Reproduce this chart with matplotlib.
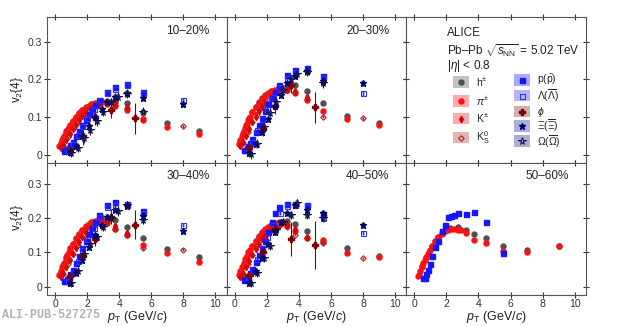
import numpy as np
import matplotlib
matplotlib.use('Agg')
import matplotlib.pyplot as plt
from matplotlib.patches import Rectangle

plt.rcParams['font.family'] = ['Liberation Sans', 'DejaVu Sans']
plt.rcParams['mathtext.fontset'] = 'custom'
plt.rcParams['mathtext.rm'] = 'Liberation Sans'
plt.rcParams['mathtext.it'] = 'Liberation Sans:italic'
plt.rcParams['mathtext.bf'] = 'Liberation Sans:bold'

# centrality classes shown in the panels
cents = ['10–20%', '20–30%', '30–40%', '40–50%', '50–60%']

# pT bins (GeV/c)
pt_h = [0.3, 0.5, 0.7, 0.9, 1.1, 1.3, 1.5, 1.7, 1.9, 2.25, 2.75, 3.25, 3.75, 4.5, 5.5, 7.0, 9.0]
pt_pi = [0.25, 0.35, 0.45, 0.55, 0.65, 0.75, 0.85, 0.95, 1.1, 1.3, 1.5, 1.7, 1.9, 2.1, 2.3, 2.5,
         2.7, 2.9, 3.25, 3.75, 4.5, 5.5, 7.0, 9.0]
pt_k = [0.35, 0.5, 0.7, 0.9, 1.1, 1.3, 1.5, 1.7, 1.9, 2.25, 2.75, 3.25, 3.75, 4.5]
pt_k0s = [0.5, 0.8, 1.1, 1.4, 1.7, 2.0, 2.4, 2.8, 3.25, 3.75, 4.5, 5.5, 8.0]
pt_p = [0.55, 0.65, 0.75, 0.85, 0.95, 1.1, 1.3, 1.5, 1.7, 1.9, 2.1, 2.3, 2.5, 2.75, 3.25, 3.75, 4.5, 5.5]
pt_lam = [0.8, 1.1, 1.4, 1.7, 2.0, 2.4, 2.8, 3.25, 3.75, 4.5, 5.5, 8.0]
pt_phi = [0.9, 1.75, 2.5, 3.5, 5.0]
pt_xi = [0.9, 1.3, 1.7, 2.1, 2.5, 2.9, 3.25, 3.75, 4.5, 5.5, 8.0]
pt_om = [1.0, 1.4, 1.8, 2.2, 2.6, 3.0, 3.5, 3.9, 4.5, 5.5]

# v2{4} values per centrality
v2_h = {
    '10–20%': [0.028, 0.046, 0.063, 0.078, 0.091, 0.102, 0.112, 0.120, 0.127, 0.135, 0.141, 0.143, 0.140, 0.138, 0.115, 0.084, 0.063],
    '20–30%': [0.034, 0.058, 0.079, 0.097, 0.113, 0.127, 0.140, 0.150, 0.158, 0.170, 0.179, 0.184, 0.186, 0.170, 0.139, 0.104, 0.084],
    '30–40%': [0.037, 0.064, 0.088, 0.108, 0.125, 0.141, 0.155, 0.166, 0.176, 0.188, 0.197, 0.198, 0.194, 0.174, 0.142, 0.110, 0.087],
    '40–50%': [0.036, 0.062, 0.085, 0.104, 0.120, 0.135, 0.148, 0.159, 0.168, 0.180, 0.190, 0.192, 0.184, 0.162, 0.130, 0.113, 0.091],
    '50–60%': [0.033, 0.060, 0.083, 0.102, 0.118, 0.133, 0.146, 0.157, 0.165, 0.172, 0.174, 0.166, 0.154, 0.142, 0.118, 0.106, 0.120],
}
v2_pi = {
    '10–20%': [0.024, 0.032, 0.041, 0.050, 0.058, 0.066, 0.074, 0.081, 0.091, 0.102, 0.111, 0.119, 0.125, 0.130, 0.134, 0.137,
               0.139, 0.140, 0.136, 0.131, 0.120, 0.094, 0.074, 0.056],
    '20–30%': [0.030, 0.041, 0.052, 0.063, 0.073, 0.083, 0.092, 0.101, 0.113, 0.127, 0.139, 0.149, 0.157, 0.164, 0.169, 0.172,
               0.174, 0.174, 0.171, 0.165, 0.145, 0.118, 0.095, 0.081],
    '30–40%': [0.033, 0.045, 0.058, 0.070, 0.081, 0.092, 0.102, 0.112, 0.125, 0.140, 0.153, 0.165, 0.175, 0.183, 0.189, 0.193,
               0.195, 0.195, 0.187, 0.168, 0.152, 0.123, 0.099, 0.073],
    '40–50%': [0.033, 0.045, 0.057, 0.069, 0.080, 0.090, 0.100, 0.108, 0.120, 0.134, 0.146, 0.157, 0.166, 0.174, 0.180, 0.184,
               0.186, 0.186, 0.181, 0.162, 0.142, 0.137, 0.099, 0.086],
    '50–60%': [0.030, 0.045, 0.057, 0.068, 0.078, 0.088, 0.097, 0.106, 0.118, 0.133, 0.145, 0.155, 0.162, 0.166, 0.168, 0.168,
               0.167, 0.165, 0.157, 0.137, 0.128, 0.103, 0.100, 0.118],
}
v2_k = {
    '10–20%': [0.020, 0.028, 0.041, 0.055, 0.069, 0.081, 0.093, 0.103, 0.112, 0.124, 0.135, 0.138, 0.137, 0.126],
    '20–30%': [0.025, 0.036, 0.052, 0.070, 0.087, 0.102, 0.116, 0.128, 0.139, 0.155, 0.168, 0.173, 0.170, 0.155],
    '30–40%': [0.028, 0.040, 0.058, 0.078, 0.097, 0.114, 0.130, 0.144, 0.156, 0.173, 0.188, 0.190, 0.178, 0.158],
    '40–50%': [0.027, 0.039, 0.057, 0.076, 0.094, 0.110, 0.125, 0.138, 0.149, 0.165, 0.178, 0.180, 0.168, 0.145],
}
v2_k0s = {
    '10–20%': [0.026, 0.047, 0.069, 0.088, 0.103, 0.116, 0.128, 0.136, 0.139, 0.133, 0.125, 0.097, 0.076],
    '20–30%': [0.033, 0.060, 0.087, 0.110, 0.129, 0.145, 0.160, 0.170, 0.174, 0.168, 0.148, 0.102, 0.097],
    '30–40%': [0.036, 0.067, 0.097, 0.123, 0.144, 0.162, 0.178, 0.190, 0.190, 0.170, 0.152, 0.112, 0.108],
    '40–50%': [0.035, 0.065, 0.094, 0.118, 0.138, 0.155, 0.170, 0.180, 0.175, 0.152, 0.142, 0.128, 0.084],
}
v2_p = {
    '10–20%': [0.011, 0.013, 0.016, 0.020, 0.026, 0.036, 0.050, 0.065, 0.080, 0.094, 0.108, 0.120, 0.132, 0.147, 0.168, 0.179, 0.188, 0.168],
    '20–30%': [0.013, 0.015, 0.019, 0.024, 0.031, 0.044, 0.061, 0.080, 0.099, 0.117, 0.134, 0.150, 0.167, 0.185, 0.212, 0.226, 0.229, 0.210],
    '30–40%': [0.016, 0.018, 0.022, 0.028, 0.036, 0.050, 0.070, 0.091, 0.112, 0.133, 0.153, 0.172, 0.190, 0.210, 0.240, 0.247, 0.243, 0.222],
    '40–50%': [0.020, 0.022, 0.026, 0.032, 0.039, 0.053, 0.072, 0.092, 0.113, 0.135, 0.160, 0.190, 0.215, 0.232, 0.242, 0.243, 0.238, 0.213],
    '50–60%': [0.025, 0.026, 0.037, 0.050, 0.065, 0.090, 0.115, 0.135, 0.163, 0.180, 0.203, 0.208, 0.210, 0.216, 0.211, 0.218, 0.190, 0.098],
}
v2_lam = {
    '10–20%': [0.013, 0.030, 0.053, 0.076, 0.098, 0.122, 0.145, 0.163, 0.176, 0.186, 0.165, 0.146],
    '20–30%': [0.015, 0.036, 0.066, 0.095, 0.122, 0.153, 0.180, 0.205, 0.220, 0.225, 0.205, 0.163],
    '30–40%': [0.018, 0.042, 0.075, 0.107, 0.138, 0.172, 0.203, 0.232, 0.240, 0.238, 0.215, 0.181],
    '40–50%': [0.020, 0.045, 0.080, 0.112, 0.145, 0.180, 0.215, 0.235, 0.240, 0.235, 0.200, 0.157],
}
v2_phi = {
    '10–20%': [0.015, 0.050, 0.100, 0.120, 0.097],
    '20–30%': [0.020, 0.070, 0.130, 0.185, 0.126],
    '30–40%': [0.030, 0.090, 0.140, 0.205, 0.181],
    '40–50%': [0.035, 0.100, 0.170, 0.139, 0.123],
}
err_phi = {
    '10–20%': [0.010, 0.022, 0.020, 0.022, 0.042],
    '20–30%': [0.010, 0.020, 0.020, 0.020, 0.040],
    '30–40%': [0.010, 0.020, 0.020, 0.022, 0.042],
    '40–50%': [0.012, 0.020, 0.020, 0.050, 0.070],
}
v2_xi = {
    '10–20%': [0.008, 0.025, 0.050, 0.077, 0.100, 0.122, 0.140, 0.155, 0.165, 0.150, 0.136],
    '20–30%': [0.005, 0.030, 0.062, 0.095, 0.130, 0.160, 0.190, 0.210, 0.222, 0.195, 0.190],
    '30–40%': [0.010, 0.040, 0.078, 0.116, 0.152, 0.180, 0.205, 0.225, 0.237, 0.207, 0.162],
    '40–50%': [0.012, 0.045, 0.085, 0.125, 0.160, 0.190, 0.215, 0.240, 0.225, 0.215, 0.181],
}
v2_om = {
    '10–20%': [0.006, 0.020, 0.045, 0.066, 0.090, 0.115, 0.140, 0.155, 0.162, 0.115],
    '20–30%': [0.002, 0.030, 0.075, 0.112, 0.140, 0.172, 0.200, 0.214, 0.221, 0.190],
    '30–40%': [0.012, 0.045, 0.095, 0.125, 0.145, 0.175, 0.200, 0.220, 0.238, 0.195],
    '40–50%': [0.010, 0.040, 0.085, 0.120, 0.165, 0.190, 0.210, 0.245, 0.210, 0.200],
}

# name, pt, v2, marker style, syst box colour, syst half height, stat error
species = [
    ('h', pt_h, v2_h, dict(marker='o', color='#505050', mfc='#505050', ms=3.6), '#b9b9b9', 0.004, 0.002),
    ('pi', pt_pi, v2_pi, dict(marker='o', color='#ff1010', mfc='#ff1010', ms=3.6), '#ff9c9c', 0.004, 0.002),
    ('k', pt_k, v2_k, dict(marker='d', color='#e00000', mfc='#e00000', ms=3.2), '#f0a0a0', 0.004, 0.003),
    ('k0s', pt_k0s, v2_k0s, dict(marker='D', color='#b02020', mfc='none', ms=2.8, mew=0.8), '#e0a8a8', 0.004, 0.004),
    ('p', pt_p, v2_p, dict(marker='s', color='#1515ff', mfc='#1515ff', ms=3.6), '#9a9aff', 0.005, 0.003),
    ('lam', pt_lam, v2_lam, dict(marker='s', color='#3030ee', mfc='none', ms=3.6, mew=0.8), '#a8a8f4', 0.006, 0.006),
    ('phi', pt_phi, v2_phi, dict(marker='P', color='#800000', mfc='#800000', ms=3.8), '#c8a0a0', 0.005, None),
    ('xi', pt_xi, v2_xi, dict(marker='*', color='#000070', mfc='#000070', ms=4.5), '#a0a0d8', 0.006, 0.008),
    ('om', pt_om, v2_om, dict(marker='*', color='#101050', mfc='none', ms=5.5, mew=0.7), '#a0a0cc', 0.007, 0.012),
]

fig = plt.figure(figsize=(6.2, 3.27), dpi=100)
gs = fig.add_gridspec(2, 3, left=0.076, right=0.945, top=0.948, bottom=0.097,
                      hspace=0, wspace=0, height_ratios=[146, 132])

panel_pos = [(0, 0), (0, 1), (1, 0), (1, 1), (1, 2)]
axes = {}
for r in range(2):
    for c in range(3):
        ax = fig.add_subplot(gs[r, c])
        ax.set_xlim(-0.5, 10.7)
        if r == 0:
            ax.set_ylim(-0.021, 0.365)
        else:
            ax.set_ylim(-0.025, 0.361)
        ax.set_xticks([0, 2, 4, 6, 8, 10])
        ax.set_yticks([0, 0.1, 0.2, 0.3])
        ax.set_yticklabels(['0', '0.1', '0.2', '0.3'])
        ax.tick_params(direction='inout', length=5, width=0.8, top=True, right=True,
                       labelsize=7.5, colors='#333333', pad=1)
        ax.tick_params(axis='x', pad=0)
        if c != 0:
            ax.tick_params(labelleft=False)
        if r == 0:
            ax.tick_params(labelbottom=False)
        for s in ax.spines.values():
            s.set_color('#555555')
            s.set_linewidth(0.8)
        axes[(r, c)] = ax

for cent, pos in zip(cents, panel_pos):
    ax = axes[pos]
    for name, pt, v2, st, boxc, syst, stat in species:
        if cent not in v2:
            continue
        x = np.array(pt)
        y = np.array(v2[cent])
        ax.bar(x, 2 * syst, bottom=y - syst, width=0.24, color=boxc, alpha=0.75, lw=0, zorder=1)
        if name == 'phi':
            yerr = err_phi[cent]
        else:
            yerr = stat
        ax.errorbar(x, y, yerr=yerr, fmt='none', ecolor=st['color'], elinewidth=0.8, zorder=2)
        ax.plot(x, y, ls='none', zorder=3, **st)
    ax.text(0.905, 0.905, cent, transform=ax.transAxes, ha='right', va='center',
            fontsize=8.5, color='#222222')

# legend panel
lax = axes[(0, 2)]
lax.text(0.228, 0.89, 'ALICE', transform=lax.transAxes, fontsize=8.5, va='center', color='#222222')
lax.text(0.228, 0.774, r'Pb–Pb $\sqrt{s_{\rm NN}}$ = 5.02 TeV', transform=lax.transAxes,
         fontsize=8.5, va='center', color='#222222')
lax.text(0.228, 0.664, r'|$\eta$| < 0.8', transform=lax.transAxes, fontsize=8.5, va='center',
         color='#222222')

leg_labels = {
    'h': r'h$^{\pm}$', 'pi': r'$\pi^{\pm}$', 'k': r'K$^{\pm}$', 'k0s': r'K$^{0}_{\rm S}$',
    'p': r'p($\bar{\rm p}$)', 'lam': r'$\Lambda(\overline{\Lambda})$', 'phi': r'$\phi$',
    'xi': r'$\Xi(\overline{\Xi})$', 'om': r'$\Omega(\overline{\Omega})$',
}
left_rows = {'h': 0.555, 'pi': 0.425, 'k': 0.305, 'k0s': 0.175}
right_rows = {'p': 0.567, 'lam': 0.462, 'phi': 0.353, 'xi': 0.255, 'om': 0.15}

for name, pt, v2, st, boxc, syst, stat in species:
    if name in left_rows:
        xc, xt, yc = 0.306, 0.389, left_rows[name]
    else:
        xc, xt, yc = 0.644, 0.728, right_rows[name]
    lax.add_patch(Rectangle((xc - 0.045, yc - 0.04), 0.09, 0.08, transform=lax.transAxes,
                            color=boxc, alpha=0.85, lw=0))
    lax.plot([xc], [yc], ls='none', transform=lax.transAxes, **st)
    lax.text(xt, yc, leg_labels[name], transform=lax.transAxes, fontsize=7.5, va='center',
             color='#222222')

# axis titles
for c in range(3):
    bb = axes[(1, c)].get_position()
    fig.text((bb.x0 + bb.x1) / 2, 0.03, r'$p_{\rm T}$ (GeV/$c$)', ha='center', va='center',
             fontsize=9, color='#222222')
fig.text(0.027, 0.725, r'v$_{2}${4}', rotation=90, ha='center', va='center', fontsize=8.5, color='#222222')
fig.text(0.027, 0.336, r'v$_{2}${4}', rotation=90, ha='center', va='center', fontsize=8.5, color='#222222')

fig.text(0.004, 0.038, 'ALI-PUB-527275', family='Liberation Mono', weight='bold',
         color='#b3b3b3', fontsize=8.5, va='center')

fig.savefig('out.png', dpi=100)
